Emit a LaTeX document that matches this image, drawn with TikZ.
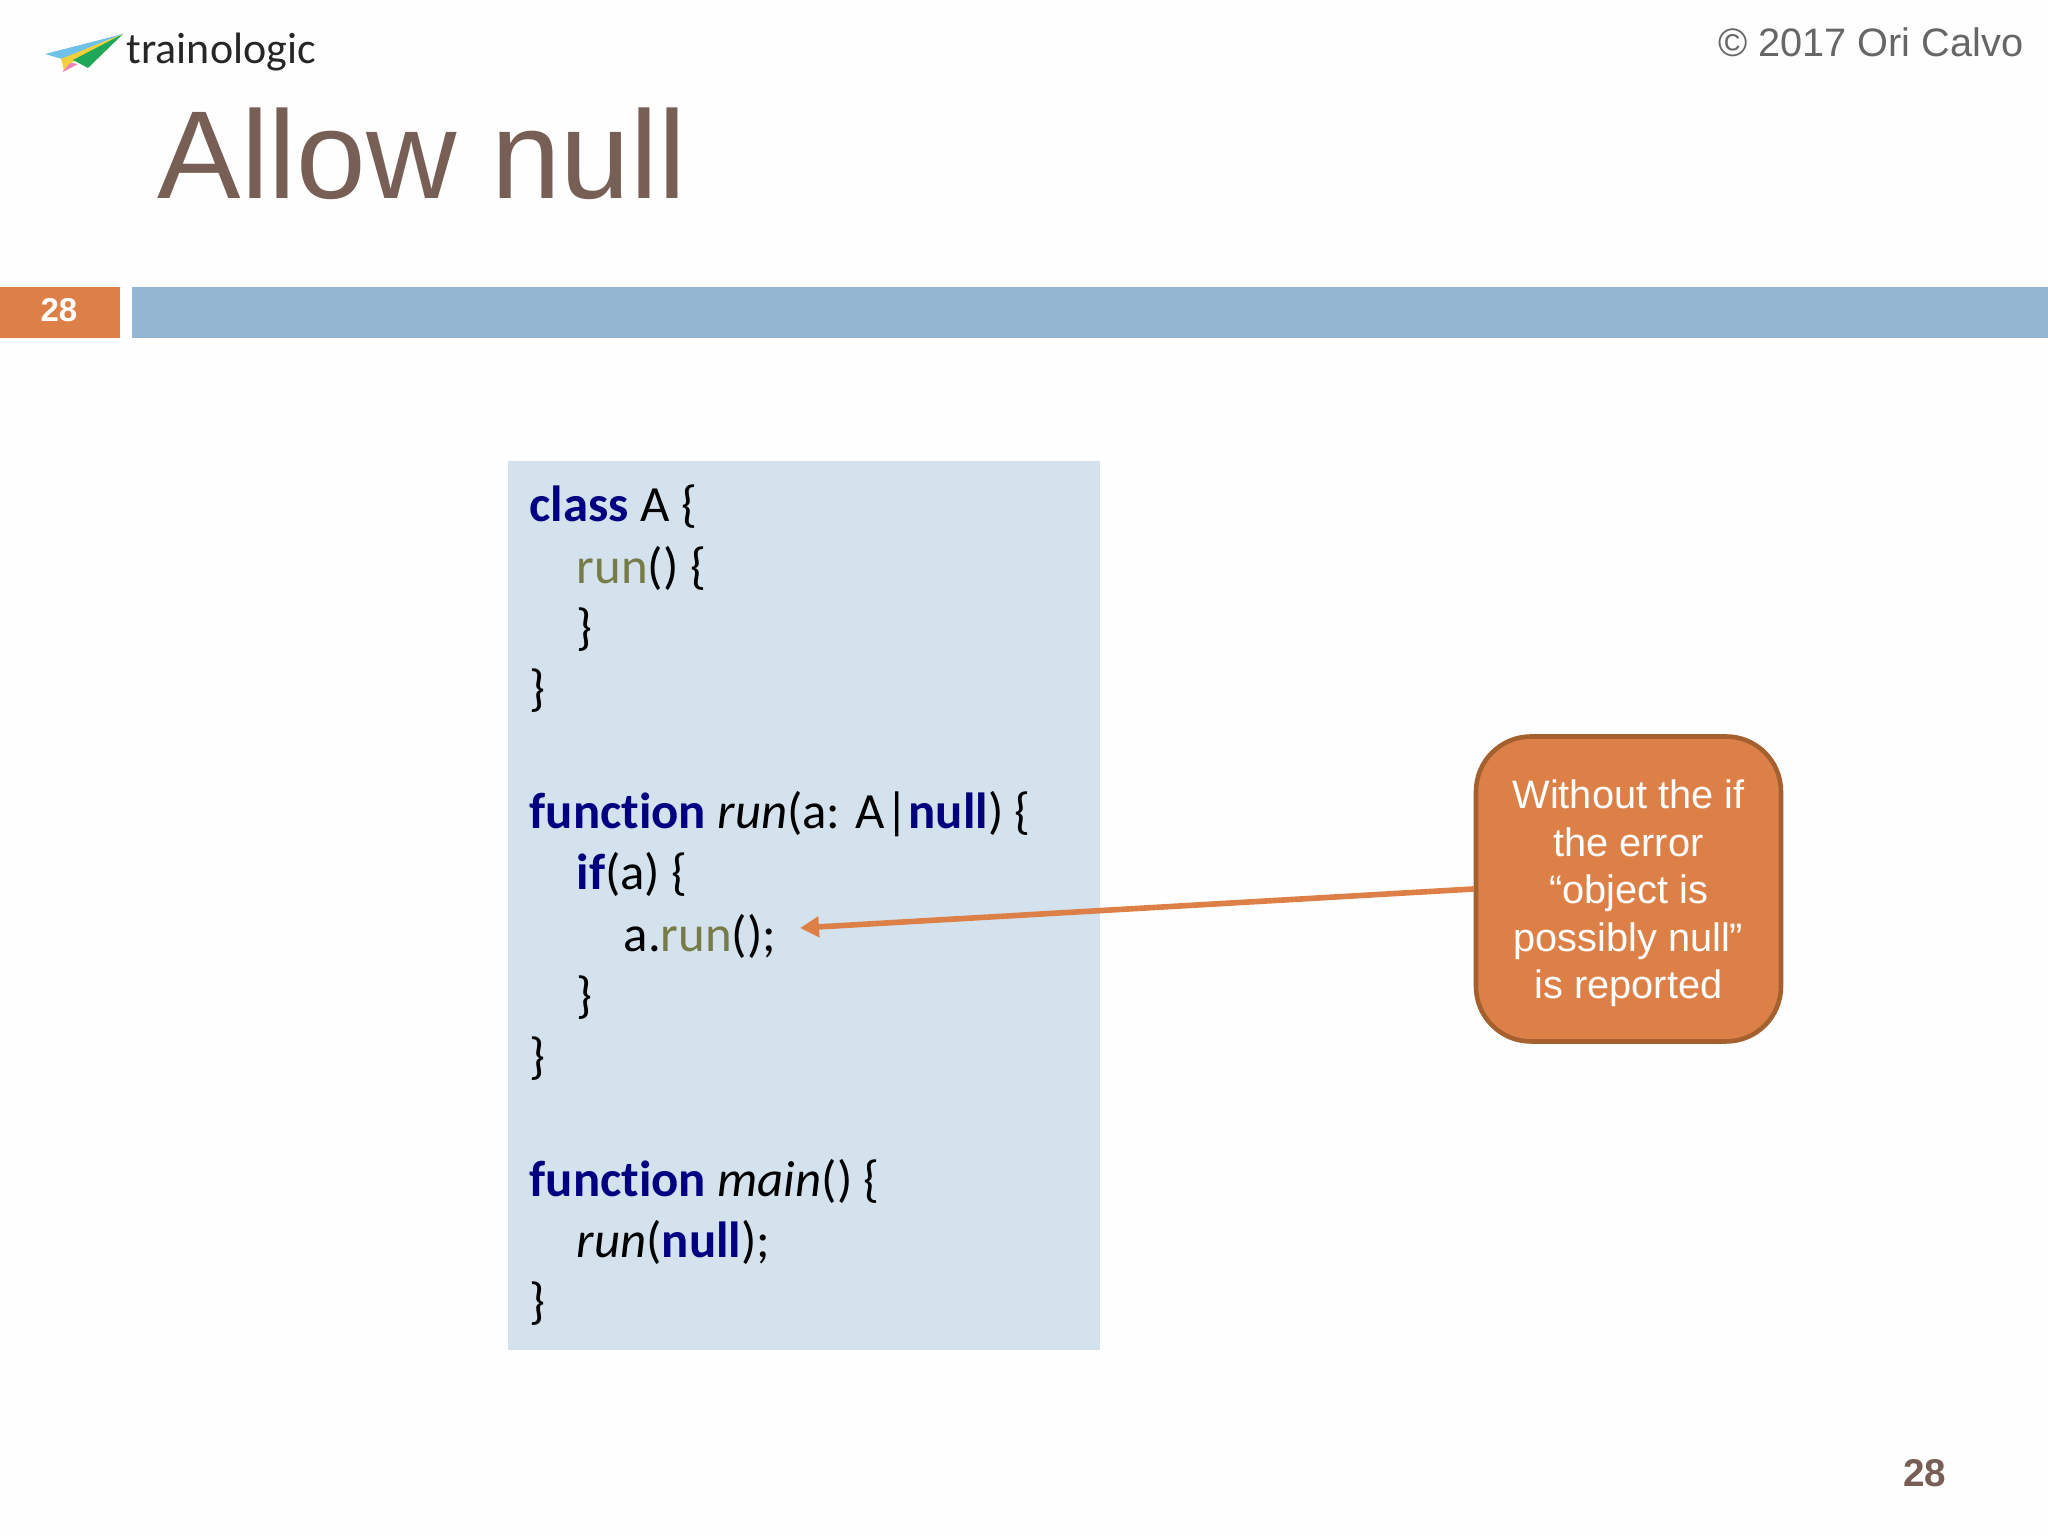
\documentclass[tikz,border=0pt]{standalone}
\usepackage{xcolor}
\usepackage{fontspec}
\setmainfont{Liberation Sans}
\newfontfamily\codefont[Ligatures=NoCommon]{Carlito}
\usetikzlibrary{shapes,arrows.meta,positioning}
\definecolor{titlebrown}{HTML}{775F55}
\definecolor{accentorange}{HTML}{DD8047}
\definecolor{borderorange}{HTML}{A5602F}
\definecolor{barblue}{HTML}{94B6D2}
\definecolor{panelblue}{HTML}{D4E2EE}
\definecolor{keywordblue}{HTML}{000080}
\definecolor{methodolive}{HTML}{767B48}
\definecolor{planeblue}{HTML}{6EC1E8}
\definecolor{planeyellow}{HTML}{F2CF3C}
\definecolor{planegreen}{HTML}{1FA85A}
\definecolor{planepink}{HTML}{EE82B8}
\newcommand{\kw}[1]{\textcolor{keywordblue}{\textbf{#1}}}
\newcommand{\mth}[1]{\textcolor{methodolive}{#1}}
\tikzset{
    codeline/.style={anchor=base west,inner sep=0pt,font=\codefont\fontsize{14.45}{17}\selectfont},
    callout/.style={draw=borderorange,line width=1.3pt,fill=accentorange,rounded corners=0.55cm,
        minimum width=3.05cm,minimum height=3.05cm,inner sep=0pt},
    callouttext/.style={text=white,inner sep=0pt,align=center,font=\fontsize{11.3}{13.5}\selectfont},
    pointer/.style={accentorange,line width=1.6pt,-{Triangle[length=0.19cm,width=0.2cm]}}
}
\begin{document}
\begin{tikzpicture}
        \useasboundingbox (0,0) rectangle (20.48,15.36);
        \fill[white!99.5!black] (0,0) rectangle (20.48,15.36);

        % logo
        \fill[planeblue] (1.23,15.02) -- (0.45,14.82) -- (0.62,14.77) -- cycle;
        \fill[planepink] (0.63,14.64) -- (0.66,14.74) -- (0.78,14.72) -- cycle;
        \fill[planeyellow] (1.23,15.02) -- (0.61,14.77) -- (0.64,14.66) -- (0.69,14.72) -- (0.75,14.75) -- cycle;
        \fill[planegreen] (1.23,15.02) -- (0.73,14.76) -- (0.88,14.68) -- cycle;
        \node[anchor=base west,inner sep=0pt,text=black!85,font=\codefont\fontsize{12.5}{15}\selectfont] (brand) at (1.26,14.72) {trainologic};

        % header
        \node[anchor=base west,inner sep=0pt,text=titlebrown,font=\fontsize{35.6}{40}\selectfont] (title) at (1.57,13.37) {Allow null};
        \node[anchor=base east,inner sep=0pt,text=black!60,font=\fontsize{11.3}{13}\selectfont] (copyright) at (20.24,14.795) {© 2017 Ori Calvo};
        \fill[accentorange] (0,11.98) rectangle (1.20,12.49);
        \fill[barblue] (1.32,11.98) rectangle (20.48,12.49);
        \node[text=white,inner sep=0pt,font=\bfseries\fontsize{9.4}{11}\selectfont] (slidetag) at (0.59,12.26) {28};
        \node[anchor=base east,inner sep=0pt,text=titlebrown,font=\bfseries\fontsize{11}{13}\selectfont] (pagenum) at (19.47,0.49) {28};

        % code
        \fill[panelblue] (5.08,1.86) rectangle (11.00,10.75);
        \node[codeline] (line1) at (5.29,10.145) {\kw{class} A \{};
        \node[codeline] (line2) at (5.76,9.525) {\mth{run}() \{};
        \node[codeline] (line3) at (5.76,8.915) {\}};
        \node[codeline] (line4) at (5.29,8.305) {\}};
        \node[codeline] (line5) at (5.29,7.075) {\kw{function} \textit{run}(a: A|\kw{null}) \{};
        \node[codeline] (line6) at (5.76,6.465) {\kw{if}(a) \{};
        \node[codeline] (line7) at (6.23,5.845) {a.\mth{run}();};
        \node[codeline] (line8) at (5.76,5.235) {\}};
        \node[codeline] (line9) at (5.29,4.625) {\}};
        \node[codeline] (line10) at (5.29,3.395) {\kw{function} \textit{main}() \{};
        \node[codeline] (line11) at (5.76,2.785) {\textit{run}(\kw{null});};
        \node[codeline] (line12) at (5.29,2.175) {\}};

        % callout
        \node[callout] (note) at (16.285,6.47) {};
        \node[callouttext,yshift=-0.045cm] (notetext) at (note.center) {Without the if\\the error\\“object is\\possibly null”\\is reported};
        \coordinate (target) at (8.00,6.08);
        \draw[pointer] (note.west) -- (target);
    \end{tikzpicture}
\end{document}
